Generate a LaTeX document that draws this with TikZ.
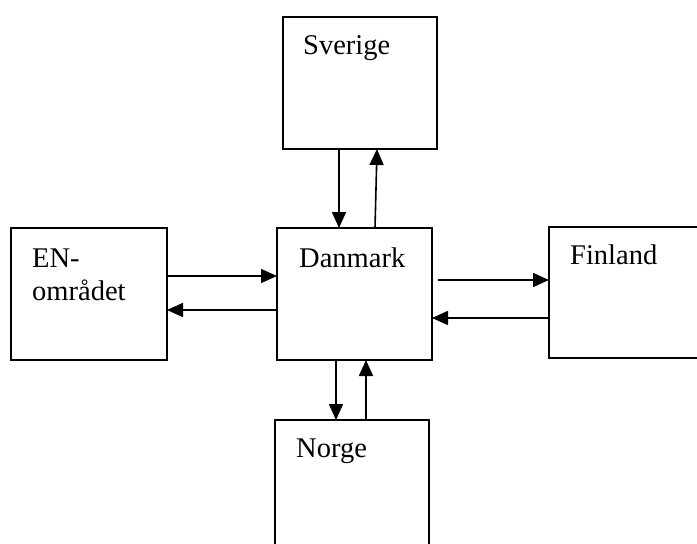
\documentclass[tikz,border=0pt]{standalone}
\usepackage{fontspec}
\setmainfont{Liberation Serif}
\usetikzlibrary{arrows.meta}
\begin{document}
\begin{tikzpicture}[x=1pt,y=-1pt,
  box/.style={draw=black,line width=1.8pt,fill=none,outer sep=0pt,inner sep=0pt},
  lbl/.style={anchor=base west,inner sep=0pt,font=\fontsize{28.5}{33}\selectfont},
  arr/.style={line width=1.6pt,-{Triangle[length=16pt,width=14pt]}}]
\useasboundingbox (0,0) rectangle (697,544);
\fill[white] (0,0) rectangle (697,544);
% boxes
\node[box,minimum width=154pt,minimum height=132pt] (sv) at (360,83) {};
\node[box,minimum width=155pt,minimum height=132pt] (dk) at (354.5,294) {};
\node[box,minimum width=156pt,minimum height=132pt] (en) at (89,294) {};
\node[box,minimum width=150pt,minimum height=131pt] (fi) at (624,292.5) {};
\node[box,minimum width=154pt,minimum height=140pt] (no) at (352,490) {};
% labels
\node[lbl] (svt) at (303,54) {Sverige};
\node[lbl] (dkt) at (299,267) {Danmark};
\node[lbl] (ent1) at (32,267) {EN-};
\node[lbl] (ent2) at (32,300) {området};
\node[lbl] (fit) at (570,264) {Finland};
\node[lbl] (not) at (296,457) {Norge};
% connectors
\coordinate (dkf) at (438,280);
\draw[arr] (sv.south -| 339,0) -- (dk.north -| 339,0);
\draw[arr] (dk.north -| 375,0) -- (sv.south -| 377,0);
\draw[arr] (en.east |- 0,276) -- (dk.west |- 0,276);
\draw[arr] (dk.west |- 0,310) -- (en.east |- 0,310);
\draw[arr] (dkf) -- (fi.west |- dkf);
\draw[arr] (fi.west |- 0,318) -- (dk.east |- 0,318);
\draw[arr] (dk.south -| 336,0) -- (no.north -| 336,0);
\draw[arr] (no.north -| 366,0) -- (dk.south -| 366,0);
\end{tikzpicture}
\end{document}
